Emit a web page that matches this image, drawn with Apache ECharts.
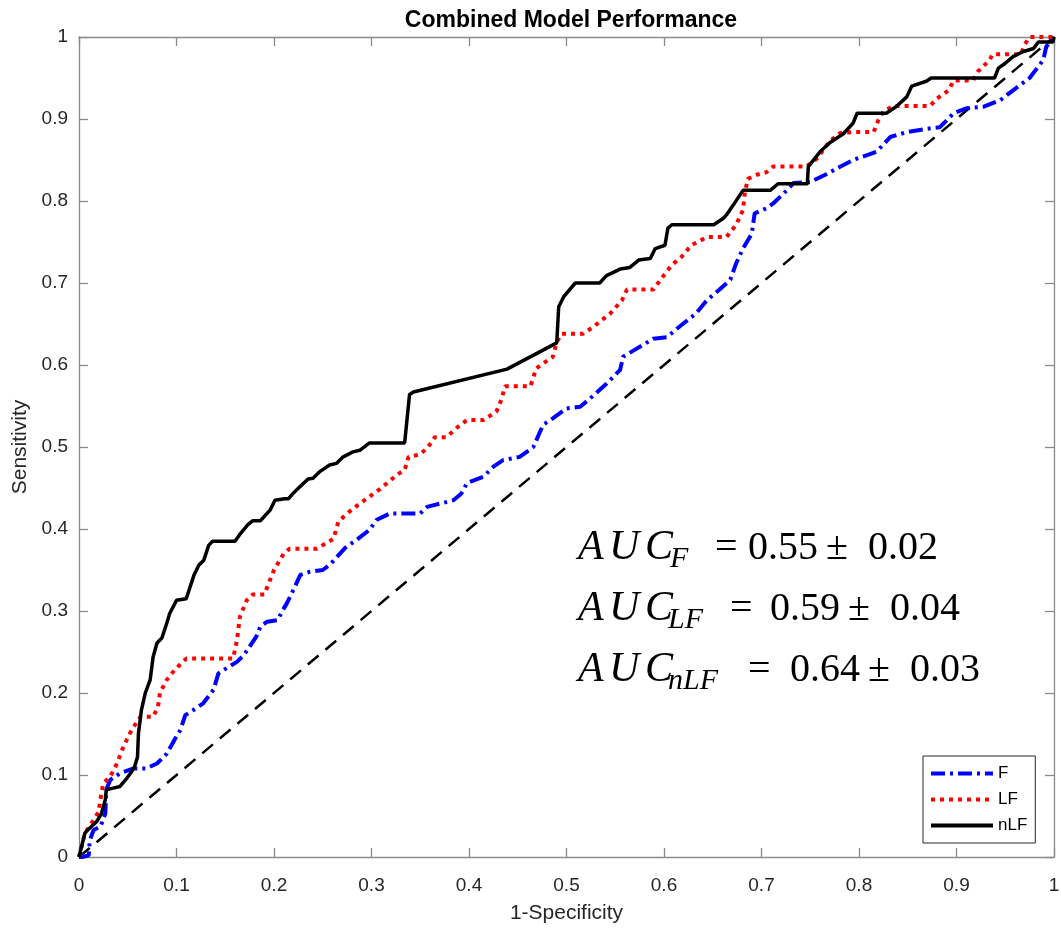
<!DOCTYPE html>
<html><head><meta charset="utf-8">
<script src="https://cdn.jsdelivr.net/npm/echarts@6/dist/echarts.min.js"></script>
<style>html,body{margin:0;padding:0;background:#fff}#c{width:1061px;height:928px}</style>
</head><body><div id="c"></div>
<script>
// ---------- data ----------
const seriesNames = ['F', 'LF', 'nLF'];
const fPoints = [[0,0],[0.003,0],[0.010,0.002],[0.011,0.020],[0.015,0.033],[0.022,0.037],[0.027,0.053],[0.028,0.082],[0.032,0.094],[0.042,0.102],[0.056,0.108],[0.069,0.108],[0.080,0.114],[0.090,0.126],[0.098,0.143],[0.104,0.155],[0.109,0.173],[0.117,0.179],[0.127,0.187],[0.138,0.204],[0.143,0.224],[0.151,0.230],[0.162,0.238],[0.169,0.246],[0.182,0.269],[0.186,0.281],[0.193,0.287],[0.204,0.289],[0.208,0.299],[0.213,0.309],[0.220,0.326],[0.227,0.344],[0.237,0.348],[0.250,0.350],[0.257,0.356],[0.273,0.377],[0.285,0.387],[0.298,0.399],[0.305,0.411],[0.319,0.419],[0.350,0.419],[0.357,0.427],[0.384,0.435],[0.392,0.443],[0.398,0.456],[0.415,0.464],[0.425,0.476],[0.435,0.484],[0.452,0.488],[0.466,0.500],[0.476,0.527],[0.486,0.535],[0.500,0.547],[0.514,0.549],[0.524,0.559],[0.541,0.577],[0.555,0.594],[0.558,0.610],[0.572,0.620],[0.589,0.632],[0.603,0.634],[0.616,0.647],[0.633,0.663],[0.644,0.679],[0.657,0.692],[0.668,0.704],[0.674,0.724],[0.681,0.742],[0.690,0.760],[0.693,0.785],[0.705,0.791],[0.712,0.797],[0.726,0.813],[0.733,0.822],[0.750,0.823],[0.767,0.833],[0.781,0.842],[0.794,0.850],[0.818,0.860],[0.832,0.878],[0.849,0.884],[0.869,0.888],[0.883,0.890],[0.897,0.907],[0.910,0.913],[0.928,0.915],[0.945,0.923],[0.958,0.935],[0.975,0.950],[0.989,0.972],[0.992,0.988],[1.0,1.0]];
const lfPoints = [[0,0],[0.006,0.029],[0.015,0.045],[0.020,0.055],[0.023,0.078],[0.025,0.090],[0.032,0.098],[0.039,0.114],[0.044,0.130],[0.049,0.143],[0.054,0.155],[0.063,0.171],[0.076,0.171],[0.081,0.183],[0.083,0.200],[0.090,0.216],[0.098,0.228],[0.110,0.242],[0.158,0.242],[0.162,0.264],[0.165,0.293],[0.172,0.313],[0.178,0.320],[0.190,0.320],[0.200,0.350],[0.210,0.370],[0.216,0.376],[0.244,0.376],[0.261,0.388],[0.266,0.409],[0.275,0.419],[0.288,0.431],[0.309,0.449],[0.326,0.466],[0.334,0.472],[0.338,0.488],[0.350,0.491],[0.358,0.500],[0.365,0.512],[0.377,0.512],[0.387,0.523],[0.398,0.533],[0.415,0.533],[0.428,0.543],[0.433,0.557],[0.437,0.574],[0.463,0.574],[0.469,0.596],[0.486,0.610],[0.490,0.628],[0.495,0.638],[0.517,0.638],[0.527,0.646],[0.545,0.663],[0.557,0.679],[0.562,0.692],[0.589,0.692],[0.599,0.708],[0.608,0.722],[0.618,0.732],[0.628,0.746],[0.644,0.756],[0.664,0.756],[0.674,0.771],[0.681,0.789],[0.683,0.811],[0.686,0.827],[0.695,0.832],[0.705,0.835],[0.712,0.842],[0.746,0.842],[0.757,0.852],[0.770,0.873],[0.781,0.883],[0.794,0.884],[0.815,0.884],[0.820,0.899],[0.825,0.909],[0.835,0.916],[0.873,0.916],[0.880,0.925],[0.892,0.935],[0.897,0.947],[0.917,0.947],[0.922,0.958],[0.934,0.972],[0.937,0.979],[0.966,0.979],[0.970,0.991],[0.975,1.0],[1.0,1.0]];
const nlfPoints = [[0,0],[0.006,0.029],[0.009,0.033],[0.018,0.043],[0.023,0.053],[0.027,0.070],[0.028,0.082],[0.035,0.084],[0.042,0.086],[0.049,0.096],[0.054,0.104],[0.057,0.110],[0.060,0.122],[0.061,0.151],[0.064,0.179],[0.068,0.200],[0.073,0.216],[0.076,0.244],[0.080,0.261],[0.085,0.267],[0.090,0.285],[0.093,0.297],[0.100,0.313],[0.110,0.315],[0.118,0.344],[0.123,0.356],[0.128,0.362],[0.133,0.380],[0.137,0.385],[0.160,0.385],[0.166,0.395],[0.173,0.405],[0.178,0.410],[0.186,0.410],[0.196,0.423],[0.201,0.435],[0.211,0.437],[0.215,0.437],[0.220,0.444],[0.227,0.452],[0.235,0.461],[0.240,0.462],[0.247,0.470],[0.257,0.478],[0.264,0.480],[0.271,0.488],[0.281,0.494],[0.288,0.496],[0.298,0.505],[0.334,0.505],[0.339,0.564],[0.343,0.567],[0.439,0.595],[0.490,0.627],[0.492,0.671],[0.497,0.683],[0.509,0.700],[0.534,0.700],[0.541,0.709],[0.555,0.717],[0.565,0.719],[0.574,0.728],[0.586,0.730],[0.591,0.742],[0.601,0.746],[0.604,0.767],[0.608,0.771],[0.651,0.771],[0.661,0.779],[0.664,0.783],[0.671,0.795],[0.681,0.813],[0.709,0.813],[0.717,0.821],[0.747,0.821],[0.748,0.842],[0.760,0.860],[0.770,0.871],[0.784,0.882],[0.794,0.895],[0.798,0.907],[0.828,0.907],[0.838,0.915],[0.849,0.927],[0.854,0.940],[0.869,0.946],[0.874,0.950],[0.939,0.950],[0.943,0.962],[0.950,0.968],[0.958,0.976],[0.968,0.982],[0.979,0.986],[0.984,0.994],[0.999,0.994],[1.0,1.0]];
const chancePoints = [[0,0],[1,1]];
const aucSubs = ['F', 'LF', 'nLF'];
const aucValues = ['0.55', '0.59', '0.64'];
const aucErrors = ['0.02', '0.04', '0.03'];

// ---------- chart ----------
const chart = echarts.init(document.getElementById('c'), null, {renderer: 'canvas'});
const axisColor = '#8a8a8a';
const labelColor = '#262626';
const sansFont = '"Liberation Sans", Arial, Helvetica, sans-serif';
const serifFont = '"Liberation Serif", "Times New Roman", serif';

function baseAxis(pos, showLabel, extra) {
  return Object.assign({
    type: 'value', min: 0, max: 1, interval: 0.1, position: pos,
    axisLine: {show: true, onZero: false, lineStyle: {color: axisColor, width: 1.3}},
    axisTick: {show: true, inside: true, length: 9, lineStyle: {color: axisColor, width: 1.3}},
    axisLabel: {show: showLabel, color: labelColor, fontSize: 19, fontFamily: sansFont},
    splitLine: {show: false}
  }, extra || {});
}

// AUC annotation (layout positions live here, text from the arrays)
const lineY = [548, 609, 670];
const subX = [670, 668, 668];
const eqX = [715, 730, 748];
const eqW = [33, 40, 42];
const graphics = [];
aucSubs.forEach((s, i) => {
  graphics.push({
    type: 'text', x: 578, y: lineY[i],
    style: {
      text: '{a|A}{u|U}{c|C}', verticalAlign: 'middle', fill: '#000',
      rich: {
        a: {font: 'italic 42px ' + serifFont, width: 31, fill: '#000'},
        u: {font: 'italic 42px ' + serifFont, width: 36, fill: '#000'},
        c: {font: 'italic 42px ' + serifFont, width: 30, fill: '#000'}
      }
    }
  });
  graphics.push({
    type: 'text', x: subX[i], y: lineY[i] + 11,
    style: {text: s, font: 'italic 30px ' + serifFont, fill: '#000', verticalAlign: 'middle'}
  });
  graphics.push({
    type: 'text', x: eqX[i], y: lineY[i],
    style: {
      text: '{e|=}{n|' + aucValues[i] + '}{p|\u00b1}{m|' + aucErrors[i] + '}',
      verticalAlign: 'middle', fill: '#000',
      rich: {
        e: {font: '40px ' + serifFont, width: eqW[i], fill: '#000'},
        n: {font: '40px ' + serifFont, width: 78, fill: '#000'},
        p: {font: '40px ' + serifFont, width: 42, fill: '#000'},
        m: {font: '40px ' + serifFont, fill: '#000'}
      }
    }
  });
});

const option = {
  animation: false,
  backgroundColor: '#fff',
  title: {
    text: 'Combined Model Performance', left: 566, top: 4, textAlign: 'center',
    textStyle: {fontSize: 23, fontWeight: 'bold', color: '#000', fontFamily: sansFont}
  },
  grid: {left: 79, right: 7, top: 37, bottom: 71, containLabel: false, outerBoundsMode: 'none'},
  legend: {
    data: seriesNames, orient: 'vertical', left: 923, top: 756,
    itemWidth: 62, itemHeight: 14, itemGap: 9, padding: [9, 8, 9, 6],
    borderColor: '#262626', borderWidth: 1, backgroundColor: '#fff',
    itemStyle: {opacity: 0, borderWidth: 0},
    lineStyle: {width: 4},
    textStyle: {fontSize: 17, color: '#000', fontFamily: sansFont}
  },
  xAxis: [
    baseAxis('bottom', true, {
      name: '1-Specificity', nameLocation: 'middle', nameGap: 46,
      nameTextStyle: {fontSize: 21, color: labelColor, fontFamily: sansFont},
      axisLabel: {show: true, color: labelColor, fontSize: 19, fontFamily: sansFont, margin: 19}
    }),
    baseAxis('top', false)
  ],
  yAxis: [
    baseAxis('left', true, {
      name: 'Sensitivity', nameLocation: 'middle', nameGap: 40,
      nameTextStyle: {fontSize: 21, color: labelColor, fontFamily: sansFont},
      axisLabel: {show: true, color: labelColor, fontSize: 19, fontFamily: sansFont, margin: 11}
    }),
    baseAxis('right', false)
  ],
  graphic: graphics,
  series: [
    {type: 'line', name: 'chance', data: chancePoints, symbol: 'none', silent: true,
     lineStyle: {color: '#000', width: 2.5, type: [14, 9]}, z: 1},
    {type: 'line', name: 'F', data: fPoints, symbol: 'none', itemStyle: {color: '#0000ff'},
     lineStyle: {color: '#0000ff', width: 4, type: [14, 5, 3, 5]}, z: 2},
    {type: 'line', name: 'LF', data: lfPoints, symbol: 'none', itemStyle: {color: '#ff0000'},
     lineStyle: {color: '#ff0000', width: 4, type: [4, 5]}, z: 3},
    {type: 'line', name: 'nLF', data: nlfPoints, symbol: 'none', itemStyle: {color: '#000'},
     lineStyle: {color: '#000', width: 3.5}, z: 4}
  ]
};
chart.setOption(option);
</script>
</body></html>
